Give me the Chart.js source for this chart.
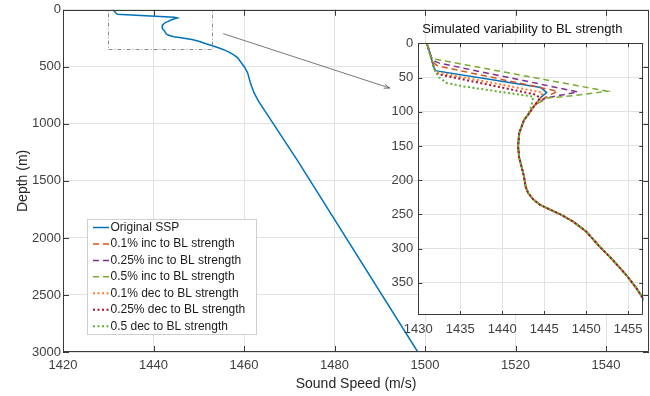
<!DOCTYPE html>
<html>
<head>
<meta charset="utf-8">
<script src="https://cdn.jsdelivr.net/npm/chart.js@4.4.1/dist/chart.umd.min.js"></script>
<style>
  html, body { margin: 0; padding: 0; background: #fff; }
  #wrap { position: relative; width: 650px; height: 396px; overflow: hidden; }
  #main { position: absolute; left: 0; top: 0; }
  #inset { position: absolute; left: 380px; top: 15px; }
</style>
</head>
<body>
<div id="wrap">
  <canvas id="main" width="650" height="396"></canvas>
  <canvas id="inset" width="270" height="335"></canvas>
</div>
<script>
// profile below the barrier layer, common to every run (depth m, speed m/s)
const deepDepth = [90, 104, 112, 122, 132, 151, 166, 180, 195, 210, 219, 228, 236, 243, 251, 261, 275, 297, 317, 339, 358, 375, 400, 421, 508, 553, 640, 727, 800, 1320, 3000];
const deepSpeed = [1443.9, 1443.1, 1442.6, 1442.3, 1442.0, 1441.9, 1442.0, 1442.3, 1442.6, 1442.8, 1443.1, 1443.7, 1444.5, 1445.7, 1447.1, 1448.5, 1450.0, 1451.6, 1453.2, 1454.8, 1456.0, 1456.9, 1457.9, 1458.6, 1460.2, 1460.8, 1461.4, 1462.2, 1463.2, 1471.8, 1498.4];

// upper part of each profile
const origDepth = [0, 15, 33, 40, 64.5, 72, 79];
const origSpeed = [1431.0, 1431.4, 1431.8, 1432.0, 1444.6, 1445.3, 1444.6];
const inc01Depth = [0, 15, 28, 33, 70, 80];
const inc01Speed = [1431.0, 1431.4, 1431.8, 1432.3, 1446.6, 1445.0];
const inc025Depth = [0, 15, 25, 29, 71, 80];
const inc025Speed = [1431.0, 1431.4, 1431.7, 1432.5, 1449.0, 1445.2];
const inc05Depth = [0, 15, 22, 70, 76.5, 80];
const inc05Speed = [1431.0, 1431.4, 1431.5, 1452.5, 1448.5, 1445.4];
const dec01Depth = [0, 15, 33, 42, 72, 80];
const dec01Speed = [1431.0, 1431.4, 1431.8, 1432.1, 1444.8, 1444.6];
const dec025Depth = [0, 15, 33, 40, 45, 75, 80];
const dec025Speed = [1431.0, 1431.4, 1431.8, 1432.0, 1432.3, 1444.0, 1444.5];
const dec05Depth = [0, 15, 33, 40, 50, 58, 63, 78, 91, 100];
const dec05Speed = [1431.0, 1431.4, 1431.8, 1432.0, 1432.5, 1433.4, 1435.4, 1443.7, 1443.5, 1443.2];

const runLabels = ['Original SSP', '0.1% inc to BL strength', '0.25% inc to BL strength', '0.5% inc to BL strength',
  '0.1% dec to BL strength', '0.25% dec to BL strength', '0.5 dec to BL strength'];
const runDepths = [origDepth, inc01Depth, inc025Depth, inc05Depth, dec01Depth, dec025Depth, dec05Depth];
const runSpeeds = [origSpeed, inc01Speed, inc025Speed, inc05Speed, dec01Speed, dec025Speed, dec05Speed];
const runColors = ['#0072BD', '#D95319', '#7E2F8E', '#77AC30', '#FF7A33', '#A2142F', '#62B032'];
const runStyles = ['solid', 'dash', 'dash', 'dash', 'dot', 'dot', 'dot'];

const speedTicks = { main: [1420, 1549.5, 20], inset: [1430, 1456.8, 5] };
const depthTicks = { main: [0, 3000, 500], inset: [0, 397, 50] };

const FONT = '"Liberation Sans", Arial, Helvetica, sans-serif';
Chart.defaults.font.family = FONT;
Chart.defaults.animation = false;

const dashFor = s => s === 'dash' ? [6, 4] : s === 'dot' ? [2, 2.5] : [];

// join the upper part of a run onto the common deep profile
function profile(depths, speeds) {
  const last = depths[depths.length - 1];
  const pts = depths.map((d, i) => ({ x: speeds[i], y: d }));
  deepDepth.forEach((d, i) => { if (d > last) pts.push({ x: deepSpeed[i], y: d }); });
  return pts;
}

// inward tick marks and the axes box
const boxTicks = {
  id: 'boxTicks',
  afterDraw(chart, args, opts) {
    const { ctx, chartArea: a, scales: { x, y } } = chart;
    const len = opts.len;
    ctx.save();
    ctx.strokeStyle = '#3a3a3a';
    ctx.lineWidth = 1;
    ctx.beginPath();
    x.ticks.forEach(t => {
      const px = Math.round(x.getPixelForValue(t.value)) + 0.5;
      ctx.moveTo(px, a.bottom); ctx.lineTo(px, a.bottom - len);
      ctx.moveTo(px, a.top); ctx.lineTo(px, a.top + len);
    });
    y.ticks.forEach(t => {
      const py = Math.round(y.getPixelForValue(t.value)) + 0.5;
      ctx.moveTo(a.left, py); ctx.lineTo(a.left + len, py);
      ctx.moveTo(a.right, py); ctx.lineTo(a.right - len, py);
    });
    ctx.rect(Math.round(a.left) + 0.5, Math.round(a.top) + 0.5, Math.round(a.width) - 1, Math.round(a.height) - 1);
    ctx.stroke();
    ctx.restore();
  }
};

// dashed zoom box and arrow pointing at the inset
const zoomMark = {
  id: 'zoomMark',
  afterDatasetsDraw(chart) {
    const { ctx, scales: { x, y } } = chart;
    ctx.save();
    ctx.strokeStyle = '#8c8c8c';
    ctx.lineWidth = 1;
    ctx.setLineDash([4, 2, 1, 2]);
    const l = x.getPixelForValue(1430), r = x.getPixelForValue(1453);
    const t = y.getPixelForValue(0), b = y.getPixelForValue(338);
    ctx.strokeRect(Math.round(l) + 0.5, Math.round(t) + 0.5, Math.round(r - l), Math.round(b - t));
    ctx.setLineDash([]);
    const x0 = x.getPixelForValue(1455.4), y0 = y.getPixelForValue(209);
    const x1 = x.getPixelForValue(1492.2), y1 = y.getPixelForValue(686);
    ctx.strokeStyle = '#555';
    ctx.lineWidth = 0.8;
    ctx.beginPath();
    ctx.moveTo(x0, y0); ctx.lineTo(x1, y1);
    const ang = Math.atan2(y1 - y0, x1 - x0);
    ctx.moveTo(x1, y1); ctx.lineTo(x1 - 6 * Math.cos(ang - 0.35), y1 - 6 * Math.sin(ang - 0.35));
    ctx.moveTo(x1, y1); ctx.lineTo(x1 - 6 * Math.cos(ang + 0.35), y1 - 6 * Math.sin(ang + 0.35));
    ctx.stroke();
    ctx.restore();
  }
};

// legend box in the lower left of the main axes
const legendBox = {
  id: 'legendBox',
  afterDraw(chart) {
    const { ctx } = chart;
    const left = 87, top = 219, w = 169, h = 115, row = 16.45;
    ctx.save();
    ctx.fillStyle = '#fff';
    ctx.fillRect(left, top, w, h);
    ctx.strokeStyle = '#cfcfcf';
    ctx.lineWidth = 1;
    ctx.strokeRect(left + 0.5, top + 0.5, w, h);
    ctx.font = '12px ' + FONT;
    ctx.textBaseline = 'middle';
    runLabels.forEach((lab, i) => {
      const cy = top + 8.5 + i * row;
      ctx.strokeStyle = runColors[i];
      ctx.lineWidth = runStyles[i] === 'dot' ? 2 : 1.5;
      ctx.setLineDash(dashFor(runStyles[i]));
      ctx.beginPath();
      ctx.moveTo(93, cy); ctx.lineTo(109, cy);
      ctx.stroke();
      ctx.setLineDash([]);
      ctx.fillStyle = '#1a1a1a';
      ctx.fillText(lab, 110.5, cy);
    });
    ctx.restore();
  }
};

// white plot background and title for the inset
const insetFrame = {
  id: 'insetFrame',
  beforeDraw(chart) {
    const { ctx, chartArea: a } = chart;
    ctx.save();
    ctx.fillStyle = '#fff';
    ctx.fillRect(a.left, a.top, a.width, a.height);
    ctx.restore();
  },
  afterDraw(chart, args, opts) {
    const { ctx, chartArea: a } = chart;
    ctx.save();
    ctx.font = '13px ' + FONT;
    ctx.fillStyle = '#111';
    ctx.textAlign = 'center';
    ctx.textBaseline = 'middle';
    ctx.fillText(opts.text, a.left + opts.dx, a.top - 13.5);
    ctx.restore();
  }
};

function axis(range, opts) {
  return Object.assign({
    type: 'linear',
    min: range[0],
    max: range[1],
    grid: { color: '#e2e2e2', drawTicks: false },
    border: { display: false },
    ticks: { stepSize: range[2], includeBounds: false, color: '#404040', font: { size: 13 }, maxRotation: 0, callback: v => String(v) }
  }, opts);
}

new Chart(document.getElementById('main'), {
  type: 'scatter',
  data: {
    datasets: [{
      label: runLabels[0],
      data: profile(origDepth, origSpeed),
      showLine: true,
      borderColor: runColors[0],
      borderWidth: 1.5,
      pointRadius: 0,
      tension: 0
    }]
  },
  options: {
    responsive: false,
    layout: { padding: { top: 8, right: 1, left: 0, bottom: 0 } },
    plugins: { legend: { display: false }, tooltip: { enabled: false }, boxTicks: { len: 6 } },
    scales: {
      x: axis(speedTicks.main, {
        position: 'bottom',
        ticks: { stepSize: 20, includeBounds: false, color: '#404040', font: { size: 13 }, padding: 6, maxRotation: 0, callback: v => String(v) },
        title: { display: true, text: 'Sound Speed (m/s)', color: '#262626', font: { size: 14 }, padding: { top: 0, bottom: 3 } },
        afterFit: s => { s.height = 44; }
      }),
      y: axis(depthTicks.main, {
        reverse: true,
        ticks: { stepSize: 500, includeBounds: false, color: '#404040', font: { size: 13 }, padding: 2, callback: v => String(v) },
        title: { display: true, text: 'Depth (m)', color: '#262626', font: { size: 14 }, padding: { top: 15, bottom: 0 } },
        afterFit: s => { s.width = 63; }
      })
    }
  },
  plugins: [boxTicks, zoomMark, legendBox]
});

new Chart(document.getElementById('inset'), {
  type: 'scatter',
  data: {
    // later runs are drawn over earlier ones
    datasets: runLabels.map((lab, i) => ({
      label: lab,
      data: profile(runDepths[i], runSpeeds[i]),
      showLine: true,
      borderColor: runColors[i],
      borderWidth: runStyles[i] === 'dot' ? 2 : 1.5,
      borderDash: dashFor(runStyles[i]),
      pointRadius: 0,
      tension: 0,
      order: runLabels.length - i
    }))
  },
  options: {
    responsive: false,
    layout: { padding: { top: 28.3, right: 6.3, left: 0, bottom: 0 } },
    plugins: {
      legend: { display: false },
      tooltip: { enabled: false },
      boxTicks: { len: 4 },
      insetFrame: { text: 'Simulated variability to BL strength', dx: 104 }
    },
    scales: {
      x: axis(speedTicks.inset, {
        position: 'bottom',
        ticks: { stepSize: 5, includeBounds: false, color: '#404040', font: { size: 13 }, padding: 7, maxRotation: 0, callback: v => String(v) },
        afterFit: s => { s.height = 35; }
      }),
      y: axis(depthTicks.inset, {
        reverse: true,
        ticks: { stepSize: 50, includeBounds: false, color: '#404040', font: { size: 13 }, padding: 5, callback: v => String(v) },
        afterFit: s => { s.width = 38.3; }
      })
    }
  },
  plugins: [insetFrame, boxTicks]
});
</script>
</body>
</html>
